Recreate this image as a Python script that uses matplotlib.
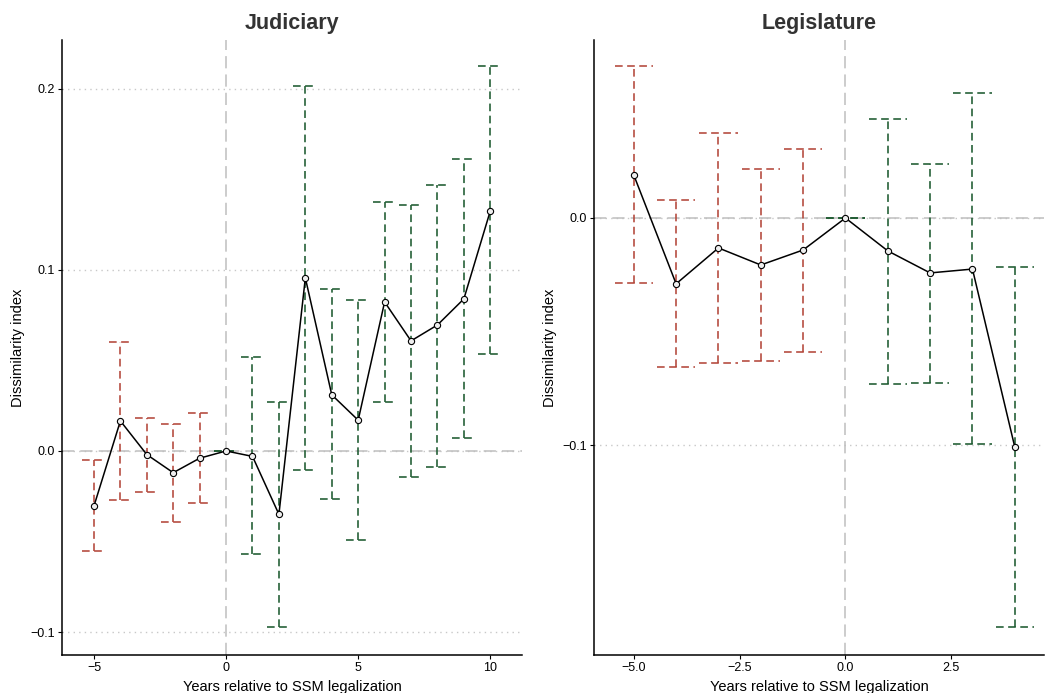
import matplotlib
matplotlib.use("Agg")
import matplotlib.pyplot as plt
import numpy as np

plt.rcParams['font.family'] = ['Liberation Sans', 'DejaVu Sans']

# Judiciary
jud_x = [-5, -4, -3, -2, -1, 0, 1, 2, 3, 4, 5, 6, 7, 8, 9, 10]
jud_est = [-0.0304, 0.0166, -0.002, -0.012, -0.004, 0.0, -0.003, -0.035, 0.0956, 0.031, 0.017, 0.0823, 0.0608, 0.0696, 0.084, 0.1326]
jud_lo = [-0.0552, -0.027, -0.0227, -0.039, -0.029, 0.0, -0.057, -0.097, -0.0105, -0.0265, -0.049, 0.027, -0.0144, -0.0088, 0.0072, 0.0536]
jud_hi = [-0.005, 0.060, 0.018, 0.015, 0.021, 0.0, 0.052, 0.027, 0.2017, 0.0895, 0.0834, 0.1376, 0.136, 0.147, 0.161, 0.2127]

# Legislature
leg_x = [-5, -4, -3, -2, -1, 0, 1, 2, 3, 4]
leg_est = [0.0189, -0.029, -0.0132, -0.0207, -0.0141, 0.0, -0.0145, -0.0242, -0.0225, -0.1009]
leg_lo = [-0.0286, -0.0656, -0.0639, -0.063, -0.059, 0.0, -0.073, -0.0727, -0.0996, -0.180]
leg_hi = [0.067, 0.0079, 0.0374, 0.0216, 0.0304, 0.0, 0.0436, 0.0238, 0.055, -0.0216]

RED = '#B3463A'
GREEN = '#1D5A30'

fig = plt.figure(figsize=(10.48, 6.93), dpi=100)
ax1 = fig.add_axes([62/1048, 1-655/693, (522-62)/1048, (655-40)/693])
ax2 = fig.add_axes([594/1048, 1-655/693, (1044-594)/1048, (655-40)/693])

def draw(ax, x, est, lo, hi, yticks, yticklabels, xticks, xticklabels, xlim, ylim, title):
    ax.set_xlim(*xlim)
    ax.set_ylim(*ylim)
    for yt in yticks:
        ax.axhline(yt, color='#C8C8C8', linestyle=(0, (1, 3)), linewidth=1.0, zorder=0)
    ax.axhline(0, color='#BEBEBE', linestyle=(0, (8, 4)), linewidth=1.1, zorder=1)
    ax.axvline(0, color='#BEBEBE', linestyle=(0, (8, 4)), linewidth=1.1, zorder=1)
    x = np.array(x, dtype=float)
    lo = np.array(lo); hi = np.array(hi)
    colors = [RED if xi < 0 else GREEN for xi in x]
    ls = (0, (4.8, 2.8))
    ax.vlines(x, lo, hi, colors=colors, linestyles=[ls], linewidth=1.15, zorder=2)
    ax.hlines(lo, x - 0.45, x + 0.45, colors=colors, linestyles=[ls], linewidth=1.15, zorder=2)
    ax.hlines(hi, x - 0.45, x + 0.45, colors=colors, linestyles=[ls], linewidth=1.15, zorder=2)
    ax.plot(x, est, color='black', linewidth=1.1, zorder=3)
    ax.scatter(x, est, s=20, facecolors='#EFEFEF', edgecolors='black', linewidths=0.8, zorder=4)
    ax.set_yticks(yticks)
    ax.set_yticklabels(yticklabels)
    ax.set_xticks(xticks)
    ax.set_xticklabels(xticklabels)
    for s in ['top', 'right']:
        ax.spines[s].set_visible(False)
    for s in ['left', 'bottom']:
        ax.spines[s].set_linewidth(1.1)
    ax.tick_params(axis='both', labelsize=9, length=3, width=0.8, colors='black', pad=2)
    ax.set_xlabel('Years relative to SSM legalization', fontsize=10.5, labelpad=4)
    ax.set_ylabel('Dissimilarity index', fontsize=10.5, labelpad=4)
    ax.set_title(title, fontsize=15.5, fontweight='bold', color='#333333', pad=8)

draw(ax1, jud_x, jud_est, jud_lo, jud_hi,
     [-0.1, 0.0, 0.1, 0.2], ['\u22120.1', '0.0', '0.1', '0.2'],
     [-5, 0, 5, 10], ['\u22125', '0', '5', '10'],
     (-6.21, 11.2), (-0.1127, 0.227), 'Judiciary')
draw(ax2, leg_x, leg_est, leg_lo, leg_hi,
     [-0.1, 0.0], ['\u22120.1', '0.0'],
     [-5.0, -2.5, 0.0, 2.5], ['\u22125.0', '\u22122.5', '0.0', '2.5'],
     (-5.94, 4.69), (-0.1925, 0.0784), 'Legislature')

fig.savefig('out.png', dpi=100)
